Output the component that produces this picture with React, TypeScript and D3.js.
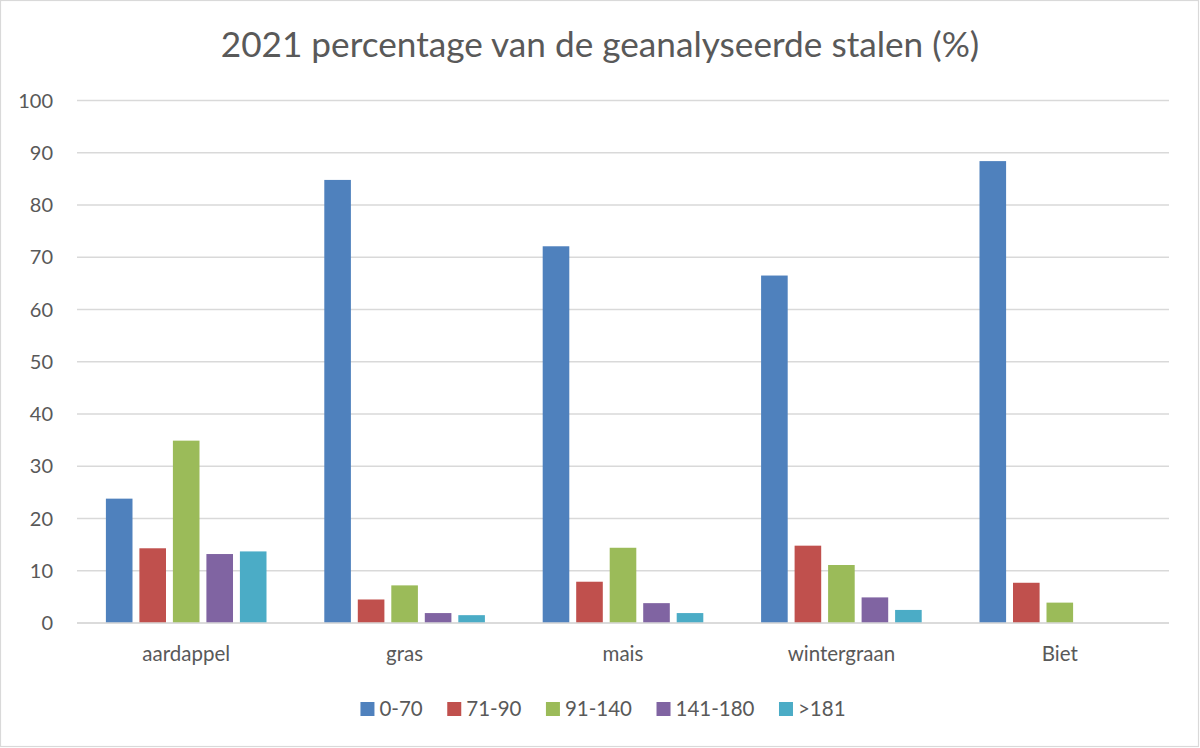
import React, { useEffect, useRef } from "react";
import * as d3 from "d3";

const title = "2021 percentage van de geanalyseerde stalen (%)";
const categories = ["aardappel", "gras", "mais", "wintergraan", "Biet"];
const seriesNames = ["0-70", "71-90", "91-140", "141-180", ">181"];
const seriesColors = ["#4F81BD", "#C0504D", "#9BBB59", "#8064A2", "#4BACC6"];
const s0_70 = [23.8, 84.8, 72.1, 66.5, 88.4];
const s71_90 = [14.3, 4.5, 7.9, 14.8, 7.7];
const s91_140 = [34.9, 7.2, 14.4, 11.1, 3.9];
const s141_180 = [13.2, 1.9, 3.8, 4.9, 0];
const s181 = [13.7, 1.5, 1.9, 2.5, 0];
const seriesValues = [s0_70, s71_90, s91_140, s141_180, s181];
const yTicks = [0, 10, 20, 30, 40, 50, 60, 70, 80, 90, 100];

const W = 1200;
const H = 748;
const FONT = "Lato, 'Open Sans', sans-serif";
const TEXT = "#595959";

export default function App() {
  const ref = useRef<SVGSVGElement>(null);

  useEffect(() => {
    document.body.style.margin = "0";
    const svg = d3.select(ref.current);
    svg.selectAll("*").remove();

    const left = 77, right = 1169, top = 100.5, bottom = 623;
    const y = d3.scaleLinear().domain([0, 100]).range([bottom, top]);
    const x0 = d3.scaleBand<string>().domain(categories).range([left, right]).paddingInner(0.233).paddingOuter(0.1165);
    const x1 = d3.scaleBand<string>().domain(seriesNames).range([0, x0.bandwidth()]).paddingInner(0.206).paddingOuter(0.103);

    svg.append("rect").attr("x", 0.5).attr("y", 0.5).attr("width", W - 2).attr("height", H - 2)
      .attr("fill", "#fff").attr("stroke", "#D9D9D9").attr("stroke-width", 1.2);

    svg.append("text").attr("x", 600).attr("y", 57).attr("text-anchor", "middle")
      .attr("font-family", FONT).attr("font-size", 35.2).attr("fill", TEXT).text(title);

    const grid = svg.append("g");
    grid.selectAll("line").data(yTicks).join("line")
      .attr("x1", left).attr("x2", right)
      .attr("y1", (d) => y(d)).attr("y2", (d) => y(d))
      .attr("stroke", "#D9D9D9").attr("stroke-width", 1.5);

    svg.append("g").selectAll("text").data(yTicks).join("text")
      .attr("x", 53).attr("y", (d) => y(d)).attr("dy", "0.36em").attr("text-anchor", "end")
      .attr("font-family", FONT).attr("font-size", 20).attr("fill", TEXT).text((d) => String(d));

    const bars = svg.append("g");
    seriesNames.forEach((s, si) => {
      bars.append("g").selectAll("rect").data(seriesValues[si]).join("rect")
        .attr("x", (_d, i) => (x0(categories[i]) as number) + (x1(s) as number))
        .attr("width", x1.bandwidth())
        .attr("y", (d) => y(d))
        .attr("height", (d) => bottom - y(d))
        .attr("fill", seriesColors[si]);
    });

    svg.append("line").attr("x1", left).attr("x2", right).attr("y1", bottom).attr("y2", bottom)
      .attr("stroke", "#D9D9D9").attr("stroke-width", 1.5);

    svg.append("g").selectAll("text").data(categories).join("text")
      .attr("x", (d) => (x0(d) as number) + x0.bandwidth() / 2).attr("y", 661)
      .attr("text-anchor", "middle").attr("font-family", FONT).attr("font-size", 20.5).attr("fill", TEXT)
      .text((d) => d);

    // legend
    const lg = svg.append("g");
    const sq = 14, gapText = 5, gapItem = 24.5;
    const items = seriesNames.map((n, i) => {
      const g = lg.append("g");
      g.append("rect").attr("width", sq).attr("height", sq).attr("y", -sq / 2).attr("fill", seriesColors[i]);
      const t = g.append("text").attr("x", sq + gapText).attr("dy", "0.36em")
        .attr("font-family", FONT).attr("font-size", 20.5).attr("fill", TEXT).text(n);
      const w = (t.node() as SVGTextElement).getComputedTextLength();
      return { g, w: sq + gapText + w };
    });
    const total = d3.sum(items, (d) => d.w) + gapItem * (items.length - 1);
    let cx = 603 - total / 2;
    items.forEach((it) => {
      it.g.attr("transform", `translate(${cx},709)`);
      cx += it.w + gapItem;
    });
  }, []);

  return (
    <svg ref={ref} width={W} height={H} style={{ position: "absolute", left: 0, top: 0, display: "block" }} />
  );
}
